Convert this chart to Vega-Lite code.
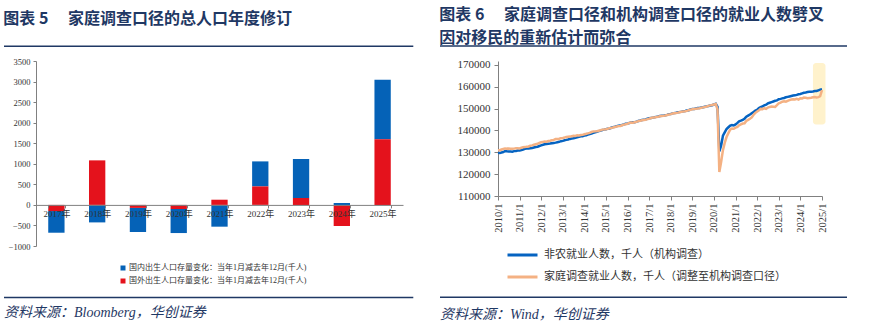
{
  "$schema": "https://vega.github.io/schema/vega-lite/v6.json",
  "background": "white",
  "padding": {"left": 3, "top": 6, "right": 0, "bottom": 0},
  "columns": 2,
  "align": "none",
  "spacing": 24,
  "resolve": {"scale": {"color": "independent"}, "legend": {"color": "independent"}},
  "config": {
    "view": {"stroke": null},
    "axis": {"grid": false, "domainColor": "#808080", "tickColor": "#808080", "labelColor": "#333333", "title": null}
  },
  "datasets": {
    "bars": [
      {"year": "2017年", "series": "国内出生人口存量变化：当年1月减去年12月(千人)", "v": -527},
      {"year": "2017年", "series": "国外出生人口存量变化：当年1月减去年12月(千人)", "v": -150},
      {"year": "2018年", "series": "国内出生人口存量变化：当年1月减去年12月(千人)", "v": -426},
      {"year": "2018年", "series": "国外出生人口存量变化：当年1月减去年12月(千人)", "v": 1083},
      {"year": "2019年", "series": "国内出生人口存量变化：当年1月减去年12月(千人)", "v": -587},
      {"year": "2019年", "series": "国外出生人口存量变化：当年1月减去年12月(千人)", "v": -73},
      {"year": "2020年", "series": "国内出生人口存量变化：当年1月减去年12月(千人)", "v": -585},
      {"year": "2020年", "series": "国外出生人口存量变化：当年1月减去年12月(千人)", "v": -100},
      {"year": "2021年", "series": "国内出生人口存量变化：当年1月减去年12月(千人)", "v": -530},
      {"year": "2021年", "series": "国外出生人口存量变化：当年1月减去年12月(千人)", "v": 126},
      {"year": "2022年", "series": "国内出生人口存量变化：当年1月减去年12月(千人)", "v": 608},
      {"year": "2022年", "series": "国外出生人口存量变化：当年1月减去年12月(千人)", "v": 450},
      {"year": "2023年", "series": "国内出生人口存量变化：当年1月减去年12月(千人)", "v": 950},
      {"year": "2023年", "series": "国外出生人口存量变化：当年1月减去年12月(千人)", "v": 165},
      {"year": "2024年", "series": "国内出生人口存量变化：当年1月减去年12月(千人)", "v": 45},
      {"year": "2024年", "series": "国外出生人口存量变化：当年1月减去年12月(千人)", "v": -515},
      {"year": "2025年", "series": "国内出生人口存量变化：当年1月减去年12月(千人)", "v": 1452},
      {"year": "2025年", "series": "国外出生人口存量变化：当年1月减去年12月(千人)", "v": 1594}
    ],
    "emp": [
      {"d":"2010-01","a":129800,"b":130900},{"d":"2010-02","a":129750,"b":130950},{"d":"2010-03","a":129900,"b":131300},{"d":"2010-04","a":130150,"b":131550},{"d":"2010-05","a":130600,"b":131800},{"d":"2010-06","a":130450,"b":131700},{"d":"2010-07","a":130400,"b":131750},{"d":"2010-08","a":130350,"b":131650},{"d":"2010-09","a":130300,"b":131600},{"d":"2010-10","a":130550,"b":131700},{"d":"2010-11","a":130650,"b":131850},{"d":"2010-12","a":130800,"b":131900},
      {"d":"2011-01","a":130850,"b":131800},{"d":"2011-02","a":131050,"b":132100},{"d":"2011-03","a":131300,"b":132300},{"d":"2011-04","a":131600,"b":132400},{"d":"2011-05","a":131700,"b":132600},{"d":"2011-06","a":131800,"b":132700},{"d":"2011-07","a":131900,"b":133000},{"d":"2011-08","a":132000,"b":133200},{"d":"2011-09","a":132200,"b":133500},{"d":"2011-10","a":132400,"b":133700},{"d":"2011-11","a":132550,"b":133900},{"d":"2011-12","a":132900,"b":134300},
      {"d":"2012-01","a":133200,"b":134600},{"d":"2012-02","a":133450,"b":134800},{"d":"2012-03","a":133700,"b":135000},{"d":"2012-04","a":133800,"b":134900},{"d":"2012-05","a":133950,"b":135200},{"d":"2012-06","a":134000,"b":135300},{"d":"2012-07","a":134150,"b":135500},{"d":"2012-08","a":134300,"b":135700},{"d":"2012-09","a":134450,"b":136100},{"d":"2012-10","a":134650,"b":136100},{"d":"2012-11","a":134800,"b":136200},{"d":"2012-12","a":135100,"b":136500},
      {"d":"2013-01","a":135250,"b":136600},{"d":"2013-02","a":135550,"b":136800},{"d":"2013-03","a":135700,"b":137000},{"d":"2013-04","a":135900,"b":137100},{"d":"2013-05","a":136150,"b":137200},{"d":"2013-06","a":136300,"b":137400},{"d":"2013-07","a":136450,"b":137600},{"d":"2013-08","a":136700,"b":137500},{"d":"2013-09","a":136900,"b":137800},{"d":"2013-10","a":137100,"b":137700},{"d":"2013-11","a":137350,"b":137900},{"d":"2013-12","a":137400,"b":138000},
      {"d":"2014-01","a":137650,"b":138300},{"d":"2014-02","a":137850,"b":138500},{"d":"2014-03","a":138100,"b":138700},{"d":"2014-04","a":138400,"b":138900},{"d":"2014-05","a":138650,"b":139300},{"d":"2014-06","a":138950,"b":139500},{"d":"2014-07","a":139200,"b":139600},{"d":"2014-08","a":139400,"b":139700},{"d":"2014-09","a":139700,"b":139900},{"d":"2014-10","a":139950,"b":140100},{"d":"2014-11","a":140250,"b":140400},{"d":"2014-12","a":140400,"b":140500},
      {"d":"2015-01","a":140600,"b":140600},{"d":"2015-02","a":140850,"b":140800},{"d":"2015-03","a":140950,"b":141000},{"d":"2015-04","a":141250,"b":141100},{"d":"2015-05","a":141550,"b":141400},{"d":"2015-06","a":141750,"b":141600},{"d":"2015-07","a":142000,"b":141800},{"d":"2015-08","a":142150,"b":142000},{"d":"2015-09","a":142250,"b":142100},{"d":"2015-10","a":142550,"b":142400},{"d":"2015-11","a":142800,"b":142700},{"d":"2015-12","a":143100,"b":142900},
      {"d":"2016-01","a":143250,"b":143100},{"d":"2016-02","a":143450,"b":143500},{"d":"2016-03","a":143650,"b":143700},{"d":"2016-04","a":143750,"b":143600},{"d":"2016-05","a":143800,"b":143800},{"d":"2016-06","a":144050,"b":144000},{"d":"2016-07","a":144350,"b":144300},{"d":"2016-08","a":144550,"b":144500},{"d":"2016-09","a":144800,"b":144700},{"d":"2016-10","a":144950,"b":144800},{"d":"2016-11","a":145100,"b":144900},{"d":"2016-12","a":145400,"b":145200},
      {"d":"2017-01","a":145600,"b":145400},{"d":"2017-02","a":145750,"b":145700},{"d":"2017-03","a":145900,"b":145900},{"d":"2017-04","a":146050,"b":145900},{"d":"2017-05","a":146250,"b":146200},{"d":"2017-06","a":146400,"b":146300},{"d":"2017-07","a":146600,"b":146500},{"d":"2017-08","a":146750,"b":146600},{"d":"2017-09","a":146750,"b":146700},{"d":"2017-10","a":146950,"b":146900},{"d":"2017-11","a":147150,"b":147100},{"d":"2017-12","a":147500,"b":147300},
      {"d":"2018-01","a":147600,"b":147500},{"d":"2018-02","a":147850,"b":147800},{"d":"2018-03","a":147950,"b":147900},{"d":"2018-04","a":148150,"b":148000},{"d":"2018-05","a":148400,"b":148200},{"d":"2018-06","a":148500,"b":148400},{"d":"2018-07","a":148650,"b":148600},{"d":"2018-08","a":148850,"b":148700},{"d":"2018-09","a":148950,"b":148800},{"d":"2018-10","a":149150,"b":149000},{"d":"2018-11","a":149300,"b":149300},{"d":"2018-12","a":149700,"b":149500},
      {"d":"2019-01","a":149900,"b":149700},{"d":"2019-02","a":149900,"b":149800},{"d":"2019-03","a":150100,"b":150000},{"d":"2019-04","a":150300,"b":150100},{"d":"2019-05","a":150350,"b":150200},{"d":"2019-06","a":150500,"b":150400},{"d":"2019-07","a":150650,"b":150600},{"d":"2019-08","a":150850,"b":150800},{"d":"2019-09","a":151050,"b":151000},{"d":"2019-10","a":151250,"b":151300},{"d":"2019-11","a":151450,"b":151500},{"d":"2019-12","a":151600,"b":151700},
      {"d":"2020-01","a":151900,"b":151900},{"d":"2020-02","a":152200,"b":152100},{"d":"2020-03","a":150800,"b":149700},{"d":"2020-04","a":130400,"b":121000},{"d":"2020-05","a":133000,"b":125500},{"d":"2020-06","a":137600,"b":131000},{"d":"2020-07","a":139100,"b":134300},{"d":"2020-08","a":140700,"b":137000},{"d":"2020-09","a":141500,"b":138800},{"d":"2020-10","a":142200,"b":140400},{"d":"2020-11","a":142500,"b":140900},{"d":"2020-12","a":142300,"b":140800},
      {"d":"2021-01","a":142800,"b":141300},{"d":"2021-02","a":143500,"b":141600},{"d":"2021-03","a":144200,"b":142400},{"d":"2021-04","a":144500,"b":142800},{"d":"2021-05","a":144900,"b":143200},{"d":"2021-06","a":145400,"b":143300},{"d":"2021-07","a":146300,"b":144400},{"d":"2021-08","a":146800,"b":144900},{"d":"2021-09","a":147300,"b":145400},{"d":"2021-10","a":147900,"b":146000},{"d":"2021-11","a":148500,"b":147200},{"d":"2021-12","a":149100,"b":148100},
      {"d":"2022-01","a":149500,"b":148700},{"d":"2022-02","a":150300,"b":149300},{"d":"2022-03","a":150700,"b":149900},{"d":"2022-04","a":151100,"b":149800},{"d":"2022-05","a":151500,"b":150200},{"d":"2022-06","a":151800,"b":149900},{"d":"2022-07","a":152400,"b":150500},{"d":"2022-08","a":152700,"b":150800},{"d":"2022-09","a":153000,"b":151000},{"d":"2022-10","a":153300,"b":150900},{"d":"2022-11","a":153600,"b":150800},{"d":"2022-12","a":153800,"b":151600},
      {"d":"2023-01","a":154300,"b":152500},{"d":"2023-02","a":154500,"b":152800},{"d":"2023-03","a":154700,"b":153200},{"d":"2023-04","a":154900,"b":153400},{"d":"2023-05","a":155200,"b":153200},{"d":"2023-06","a":155400,"b":153600},{"d":"2023-07","a":155600,"b":153900},{"d":"2023-08","a":155800,"b":154200},{"d":"2023-09","a":156000,"b":154300},{"d":"2023-10","a":156100,"b":154200},{"d":"2023-11","a":156300,"b":154500},{"d":"2023-12","a":156600,"b":154200},
      {"d":"2024-01","a":156700,"b":154800},{"d":"2024-02","a":157000,"b":154700},{"d":"2024-03","a":157300,"b":155100},{"d":"2024-04","a":157400,"b":155000},{"d":"2024-05","a":157600,"b":154800},{"d":"2024-06","a":157700,"b":154900},{"d":"2024-07","a":157800,"b":155000},{"d":"2024-08","a":157900,"b":155200},{"d":"2024-09","a":158100,"b":155300},{"d":"2024-10","a":158100,"b":155100},{"d":"2024-11","a":158400,"b":155300},{"d":"2024-12","a":158700,"b":155700},
      {"d":"2025-01","a":158900,"b":158500}
    ]
  },
  "concat": [
    {
      "title": {"text": "图表 5　 家庭调查口径的总人口年度修订", "anchor": "start", "frame": "bounds", "offset": 19, "font": "Noto Sans CJK SC", "fontSize": 16, "fontWeight": "bold", "color": "#1F3864"},
      "vconcat": [
        {
          "width": 367,
          "height": 185,
          "title": {"text": "资料来源：Bloomberg，华创证券", "orient": "bottom", "anchor": "start", "frame": "group", "dx": -32, "offset": 8, "font": "Liberation Serif, Noto Sans CJK SC", "fontSize": 14, "fontStyle": "italic", "fontWeight": "normal", "color": "#1F3864"},
          "layer": [
            {
              "data": {"name": "bars"},
              "mark": {"type": "bar"},
              "encoding": {
                "x": {"field": "year", "type": "nominal", "sort": null, "scale": {"paddingInner": 0.6, "paddingOuter": 0.3},
                  "axis": {"offset": -41.1, "tickBand": "extent", "labelAngle": 0, "tickSize": 3, "labelPadding": 2, "labelFont": "Liberation Serif, Noto Sans CJK SC", "labelFontSize": 9, "zindex": 1}},
                "y": {"field": "v", "type": "quantitative", "stack": "zero", "scale": {"domain": [-1000, 3500], "nice": false},
                  "axis": {"values": [-1000, -500, 0, 500, 1000, 1500, 2000, 2500, 3000, 3500], "format": "d", "tickSize": 3, "labelPadding": 3, "labelFont": "Liberation Serif", "labelFontSize": 8.5}},
                "color": {"field": "series", "type": "nominal",
                  "scale": {"domain": ["国内出生人口存量变化：当年1月减去年12月(千人)", "国外出生人口存量变化：当年1月减去年12月(千人)"], "range": ["#0562B7", "#E4121C"]},
                  "legend": {"orient": "none", "legendX": 83, "legendY": 203, "direction": "vertical", "title": null, "symbolType": "square", "symbolSize": 25, "symbolStrokeWidth": 0, "labelFont": "Liberation Serif, Noto Sans CJK SC", "labelFontSize": 8, "labelColor": "#333333", "rowPadding": 5, "labelLimit": 400, "padding": 0, "labelOffset": 2}},
                "order": {"field": "series", "sort": "descending"}
              }
            },
            {"data": {"values": [{}]}, "mark": {"type": "rule", "stroke": "#1F3864", "strokeWidth": 1.5}, "encoding": {"x": {"value": -32}, "x2": {"value": 377.3}, "y": {"value": -14.7}}},
            {"data": {"values": [{}]}, "mark": {"type": "rule", "stroke": "#1F3864", "strokeWidth": 1.5}, "encoding": {"x": {"value": -32}, "x2": {"value": 377.3}, "y": {"value": 236.6}}}
          ]
        }
      ]
    },
    {
      "title": {"text": ["图表 6　 家庭调查口径和机构调查口径的就业人数劈叉", "因对移民的重新估计而弥合"], "anchor": "start", "frame": "bounds", "offset": -1, "lineHeight": 23.5, "font": "Noto Sans CJK SC", "fontSize": 16, "fontWeight": "bold", "color": "#1F3864"},
      "vconcat": [
        {
          "width": 324,
          "height": 135,
          "title": {"text": "资料来源：Wind，华创证券", "orient": "bottom", "anchor": "start", "frame": "group", "dx": -58, "offset": 10, "font": "Liberation Serif, Noto Sans CJK SC", "fontSize": 14, "fontStyle": "italic", "fontWeight": "normal", "color": "#1F3864"},
          "encoding": {
            "x": {"field": "d", "type": "temporal", "timeUnit": "utcyearmonth",
              "scale": {"type": "utc", "domain": [{"year": 2010, "month": 1, "date": 1, "utc": true}, {"year": 2025, "month": 1, "date": 1, "utc": true}], "nice": false},
              "axis": {"values": [
                {"year": 2010, "month": 1, "date": 1, "utc": true}, {"year": 2011, "month": 1, "date": 1, "utc": true}, {"year": 2012, "month": 1, "date": 1, "utc": true}, {"year": 2013, "month": 1, "date": 1, "utc": true},
                {"year": 2014, "month": 1, "date": 1, "utc": true}, {"year": 2015, "month": 1, "date": 1, "utc": true}, {"year": 2016, "month": 1, "date": 1, "utc": true}, {"year": 2017, "month": 1, "date": 1, "utc": true},
                {"year": 2018, "month": 1, "date": 1, "utc": true}, {"year": 2019, "month": 1, "date": 1, "utc": true}, {"year": 2020, "month": 1, "date": 1, "utc": true}, {"year": 2021, "month": 1, "date": 1, "utc": true},
                {"year": 2022, "month": 1, "date": 1, "utc": true}, {"year": 2023, "month": 1, "date": 1, "utc": true}, {"year": 2024, "month": 1, "date": 1, "utc": true}, {"year": 2025, "month": 1, "date": 1, "utc": true}],
                "format": "%Y/%-m", "labelAngle": -90, "tickSize": 4, "labelPadding": 3, "labelFont": "Liberation Serif", "labelFontSize": 10.5, "labelOverlap": false, "labelFlush": false}},
            "y": {"field": "value", "type": "quantitative", "scale": {"domain": [110000, 171832], "nice": false, "zero": false},
              "axis": {"values": [110000, 120000, 130000, 140000, 150000, 160000, 170000], "format": "d", "tickSize": 4, "labelPadding": 4, "labelFont": "Liberation Serif", "labelFontSize": 11}}
          },
          "layer": [
            {"data": {"values": [{"d": "2024-08", "d2": "2025-03", "value": 142700, "v2": 170900}]},
             "mark": {"type": "rect", "fill": "#FFF2CC", "cornerRadius": 3},
             "encoding": {"x2": {"field": "d2", "timeUnit": "utcyearmonth"}, "y2": {"field": "v2"}}},
            {"data": {"name": "emp"},
             "transform": [{"fold": ["a", "b"], "as": ["series", "value"]}, {"filter": "datum.series == 'a'"}],
             "mark": {"type": "line", "strokeWidth": 2.5},
             "encoding": {"color": {"field": "series", "type": "nominal", "scale": {"domain": ["a", "b"], "range": ["#0563C1", "#F4B183"]},
               "legend": {"orient": "none", "legendX": 18, "legendY": 187.5, "direction": "vertical", "title": null, "symbolType": "M-3,0H3", "symbolSize": 100, "symbolStrokeWidth": 3, "labelExpr": "datum.value == 'a' ? '非农就业人数，千人（机构调查）' : '家庭调查就业人数，千人（调整至机构调查口径）'", "labelFont": "Liberation Serif, Noto Sans CJK SC", "labelFontSize": 11, "labelColor": "#333333", "rowPadding": 9, "labelLimit": 400, "padding": 0, "labelOffset": 15}}}},
            {"data": {"name": "emp"},
             "transform": [{"fold": ["a", "b"], "as": ["series", "value"]}, {"filter": "datum.series == 'b'"}],
             "mark": {"type": "line", "strokeWidth": 2.5},
             "encoding": {"color": {"field": "series", "type": "nominal", "scale": {"domain": ["a", "b"], "range": ["#0563C1", "#F4B183"]},
               "legend": {"orient": "none", "legendX": 18, "legendY": 187.5, "direction": "vertical", "title": null, "symbolType": "M-3,0H3", "symbolSize": 100, "symbolStrokeWidth": 3, "labelExpr": "datum.value == 'a' ? '非农就业人数，千人（机构调查）' : '家庭调查就业人数，千人（调整至机构调查口径）'", "labelFont": "Liberation Serif, Noto Sans CJK SC", "labelFontSize": 11, "labelColor": "#333333", "rowPadding": 9, "labelLimit": 400, "padding": 0, "labelOffset": 15}}}},
            {"data": {"values": [{}]}, "mark": {"type": "rule", "stroke": "#1F3864", "strokeWidth": 1.5}, "encoding": {"x": {"value": -58}, "x2": {"value": 349}, "y": {"value": -15}}},
            {"data": {"values": [{}]}, "mark": {"type": "rule", "stroke": "#1F3864", "strokeWidth": 1.5}, "encoding": {"x": {"value": -58}, "x2": {"value": 349}, "y": {"value": 236.3}}}
          ]
        }
      ]
    }
  ]
}
